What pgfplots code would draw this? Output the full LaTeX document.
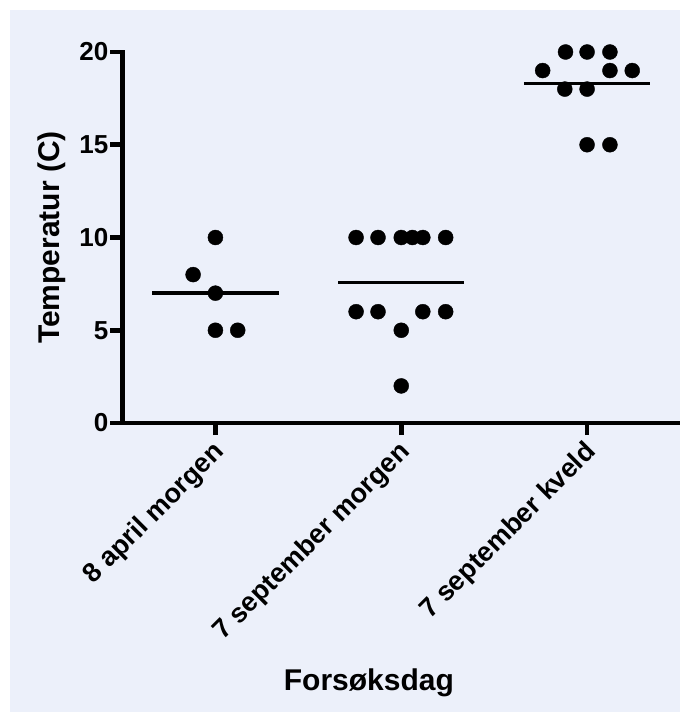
\documentclass[border=0pt]{standalone}
\usepackage{fontspec}
\setmainfont{Liberation Sans}
\usepackage{pgfplots}
\pgfplotsset{compat=1.18}
\definecolor{bgblue}{RGB}{236,240,250}
\begin{document}
\begin{tikzpicture}
\fill[white] (-122.5bp,-289bp) rectangle (557.5bp,423bp);
\fill[bgblue] (-112.5bp,-289bp) rectangle (557.5bp,413bp);
\begin{axis}[
  at={(0,0)}, anchor=south west,
  width=557.5bp, height=371bp, scale only axis,
  xmin=-0.5, xmax=2.5, ymin=0, ymax=20,
  axis x line=bottom, axis y line=left,
  axis line style={line width=4.5bp, -, line cap=rect},
  xtick={0,1,2},
  xticklabels={8 april morgen, 7 september morgen, 7 september kveld},
  ytick={0,5,10,15,20},
  tick align=outside,
  major tick length=12bp,
  tick style={line width=4.5bp, black},
  /pgf/number format/assume math mode=true,
  clip=false,
  xticklabel style={xshift=-4bp, yshift=-4bp, rotate=45, anchor=north east, inner sep=0pt, font=\fontsize{27bp}{32bp}\selectfont\bfseries},
  yticklabel style={anchor=east, font=\fontsize{26bp}{31bp}\selectfont\bfseries, inner sep=2bp},
  xlabel={Forsøksdag},
  ylabel={Temperatur (C)},
  xlabel style={font=\fontsize{30bp}{36bp}\selectfont\bfseries, at={(rel axis cs:0.442,-0.70)}, anchor=center},
  ylabel style={font=\fontsize{30bp}{36bp}\selectfont\bfseries, at={(rel axis cs:-0.127,0.5)}, anchor=center, rotate=0},
]
% individual points
\addplot[only marks, mark=*, mark size=7.5bp, black] coordinates {
  (0,10) (-0.12,8) (0,7) (0,5) (0.12,5)
};
\addplot[only marks, mark=*, mark size=7.5bp, black] coordinates {
  (0.757,10) (0.875,10) (1,10) (1.06,10) (1.116,10) (1.239,10)
  (0.757,6) (0.875,6) (1.116,6) (1.239,6)
  (1,5) (1,2)
};
\addplot[only marks, mark=*, mark size=7.5bp, black] coordinates {
  (1.884,20) (2,20) (2.123,20)
  (1.761,19) (2.123,19) (2.243,19)
  (1.88,18) (2,18)
  (2,15) (2.123,15)
};
% mean lines
\addplot[black, line width=3.5bp] coordinates {(-0.34,7) (0.34,7)};
\addplot[black, line width=3.5bp] coordinates {(0.66,7.583) (1.34,7.583)};
\addplot[black, line width=3.5bp] coordinates {(1.66,18.3) (2.34,18.3)};
\end{axis}
\pgfresetboundingbox
\useasboundingbox (-122.5bp,-289bp) rectangle (557.5bp,423bp);
\end{tikzpicture}
\end{document}
